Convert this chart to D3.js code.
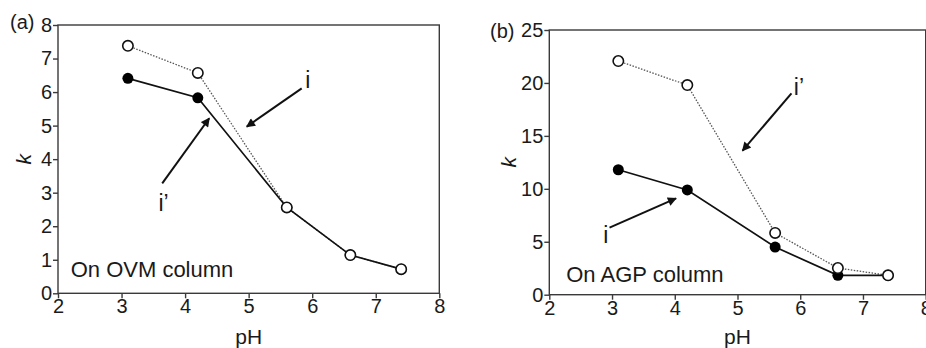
<!DOCTYPE html>
<html>
<head>
<meta charset="utf-8">
<script src="https://cdn.jsdelivr.net/npm/d3@7"></script>
<style>
  body { margin: 0; background: #fff; }
  svg { display: block; font-family: "Liberation Sans", Arial, sans-serif; }
</style>
</head>
<body>
<div id="viz"></div>
<script>
// pH values (shared by both panels)
const ph = [3.1, 4.2, 5.6, 6.6, 7.4];

// (a) OVM column
const ovmFilled = [6.41, 5.83, 2.56, 1.14, 0.72];
const ovmOpen = [7.38, 6.57, 2.56, 1.14, 0.72];

// (b) AGP column
const agpFilled = [11.8, 9.89, 4.5, 1.83, 1.83];
const agpOpen = [22.07, 19.8, 5.83, 2.52, 1.83];

const xTicks = [2, 3, 4, 5, 6, 7, 8];
const ovmYTicks = [0, 1, 2, 3, 4, 5, 6, 7, 8];
const agpYTicks = [0, 5, 10, 15, 20, 25];

const W = 926, H = 348;
const svg = d3.select("#viz").append("svg").attr("width", W).attr("height", H);

svg.append("defs").append("marker")
  .attr("id", "head")
  .attr("viewBox", "0 0 10 10")
  .attr("refX", 9).attr("refY", 5)
  .attr("markerWidth", 5.5).attr("markerHeight", 4.5)
  .attr("markerUnits", "strokeWidth")
  .attr("orient", "auto")
  .append("path").attr("d", "M0,0 L10,5 L0,10 z").attr("fill", "#111");

const panels = [
  {
    tag: "(a)", tagPos: [10, 29],
    x0: 58, x1: 439.3, yTop: 25, yBot: 293.3, yMax: 8, yTicks: ovmYTicks,
    filled: ovmFilled, open: ovmOpen,
    title: "On OVM column", titleAt: [2.2, 0.49],
    kAt: 24,
    arrows: [
      { label: "i", lab: [5.93, 6.12], from: [5.835, 6.11], to: [4.97, 4.97] },
      { label: "i\u2019", lab: [3.66, 2.45], from: [3.64, 3.28], to: [4.38, 5.22] }
    ]
  },
  {
    tag: "(b)", tagPos: [490, 38],
    x0: 549.3, x1: 925.7, yTop: 30, yBot: 294.7, yMax: 25, yTicks: agpYTicks,
    filled: agpFilled, open: agpOpen,
    title: "On AGP column", titleAt: [2.27, 1.23],
    kAt: 509,
    arrows: [
      { label: "i\u2019", lab: [5.98, 18.9], from: [5.86, 19.02], to: [5.08, 13.6] },
      { label: "i", lab: [2.9, 4.88], from: [2.96, 6.33], to: [4.02, 9.1] }
    ]
  }
];

panels.forEach(p => {
  const x = d3.scaleLinear().domain([2, 8]).range([p.x0, p.x1]);
  const y = d3.scaleLinear().domain([0, p.yMax]).range([p.yBot, p.yTop]);
  const g = svg.append("g");

  // frame
  g.append("rect")
    .attr("x", p.x0).attr("y", p.yTop)
    .attr("width", p.x1 - p.x0).attr("height", p.yBot - p.yTop)
    .attr("fill", "none").attr("stroke", "#3a3a3a").attr("stroke-width", 1.4);

  const xAxis = g.append("g").attr("transform", `translate(0,${p.yBot})`)
    .call(d3.axisBottom(x).tickValues(xTicks).tickFormat(d3.format("d")).tickSize(5).tickPadding(1));
  const yAxis = g.append("g").attr("transform", `translate(${p.x0},0)`)
    .call(d3.axisLeft(y).tickValues(p.yTicks).tickFormat(d3.format("d")).tickSize(5).tickPadding(1));
  [xAxis, yAxis].forEach(a => {
    a.select(".domain").remove();
    a.selectAll("line").attr("stroke", "#3a3a3a").attr("stroke-width", 1.4);
    a.selectAll("text").attr("fill", "#1a1a1a").style("font-size", "20px")
      .style("font-family", "Liberation Sans, Arial, sans-serif");
  });

  const line = d3.line().x((d, i) => x(ph[i])).y(d => y(d));

  g.append("path").datum(p.open).attr("d", line)
    .attr("fill", "none").attr("stroke", "#555").attr("stroke-width", 1.3)
    .attr("stroke-dasharray", "1.5,1.5");
  g.append("path").datum(p.filled).attr("d", line)
    .attr("fill", "none").attr("stroke", "#111").attr("stroke-width", 1.7);

  g.selectAll(".f").data(p.filled).enter().append("circle")
    .attr("cx", (d, i) => x(ph[i])).attr("cy", d => y(d)).attr("r", 5.5)
    .attr("fill", "#000");
  g.selectAll(".o").data(p.open).enter().append("circle")
    .attr("cx", (d, i) => x(ph[i])).attr("cy", d => y(d)).attr("r", 5.2)
    .attr("fill", "#fff").attr("stroke", "#111").attr("stroke-width", 1.6);

  // arrows + labels
  p.arrows.forEach(a => {
    g.append("line")
      .attr("x1", x(a.from[0])).attr("y1", y(a.from[1]))
      .attr("x2", x(a.to[0])).attr("y2", y(a.to[1]))
      .attr("stroke", "#111").attr("stroke-width", 2)
      .attr("marker-end", "url(#head)");
    g.append("text").attr("x", x(a.lab[0])).attr("y", y(a.lab[1]))
      .attr("text-anchor", "middle").style("font-size", "23px").attr("fill", "#1a1a1a")
      .text(a.label);
  });

  g.append("text").attr("x", x(p.titleAt[0])).attr("y", y(p.titleAt[1]))
    .style("font-size", "22px").attr("fill", "#1a1a1a").text(p.title);

  g.append("text").attr("x", p.tagPos[0]).attr("y", p.tagPos[1])
    .style("font-size", "20px").attr("fill", "#1a1a1a").text(p.tag);

  g.append("text")
    .attr("transform", `translate(${p.kAt},${(p.yTop + p.yBot) / 2}) rotate(-90)`)
    .attr("text-anchor", "middle").attr("dy", "0.35em")
    .style("font-size", "21px").style("font-style", "italic").attr("fill", "#1a1a1a")
    .text("k");

  g.append("text").attr("x", (p.x0 + p.x1) / 2).attr("y", 344)
    .attr("text-anchor", "middle").style("font-size", "21px").attr("fill", "#1a1a1a")
    .text("pH");
});
</script>
</body>
</html>
